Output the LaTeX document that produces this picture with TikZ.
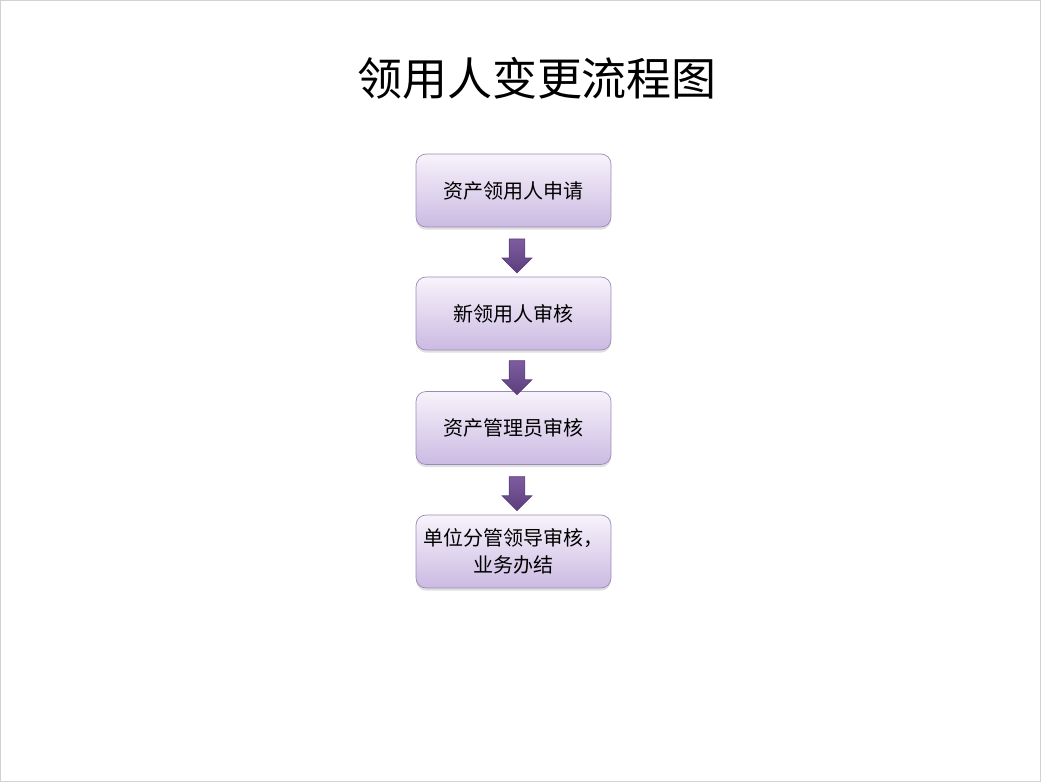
\documentclass[tikz,border=0pt]{standalone}
\usepackage{fontspec}
\setmainfont{Noto Sans CJK SC}
\usetikzlibrary{positioning,calc,shapes.arrows,shadows}
\definecolor{boxtop}{HTML}{F7F3FB}
\definecolor{boxbot}{HTML}{CBBAE2}
\definecolor{boxline}{HTML}{9A8AB6}
\definecolor{arrtop}{HTML}{7D5DA0}
\definecolor{arrbot}{HTML}{5C3E7C}
\begin{document}
\begin{tikzpicture}[x=0.02cm,y=-0.02cm,
stage/.style={draw=boxline,rounded corners=0.2cm,top color=boxtop,bottom color=boxbot,
  minimum width=3.9cm,minimum height=1.46cm,align=center,font=\fontsize{11.4pt}{15pt}\selectfont,
  drop shadow={opacity=0.25,shadow xshift=0pt,shadow yshift=-1.5pt}},
down/.style={single arrow,draw=arrbot,top color=arrtop,bottom color=arrbot,shape border rotate=270,
  inner sep=0.15cm,minimum width=0.58cm,single arrow head extend=0.14cm,minimum height=0.68cm}]
\useasboundingbox (0,0) rectangle (1041,783);
\draw[gray!35] (0.5,0.5) rectangle (1040.5,781.5);
\node (title) at (537,78) {\fontsize{25.6pt}{30pt}\selectfont 领用人变更流程图};
\node[stage] (s1) at (513.5,190.5) {资产领用人申请};
\node[stage] (s2) at (513.5,313.5) {新领用人审核};
\node[stage] (s3) at (513.5,428) {资产管理员审核};
\node[stage] (s4) at (513.5,551.5) {单位分管领导审核，\\业务办结};
\node[down] (a1) at ($(s1.south)!0.5!(s2.north)+(3.5,0)$) {};
\node[down] (a2) at ($(s2.south)!0.5!(s3.north)+(3.5,3)$) {};
\node[down] (a3) at ($(s3.south)!0.5!(s4.north)+(3.5,0)$) {};

\end{tikzpicture}
\end{document}
